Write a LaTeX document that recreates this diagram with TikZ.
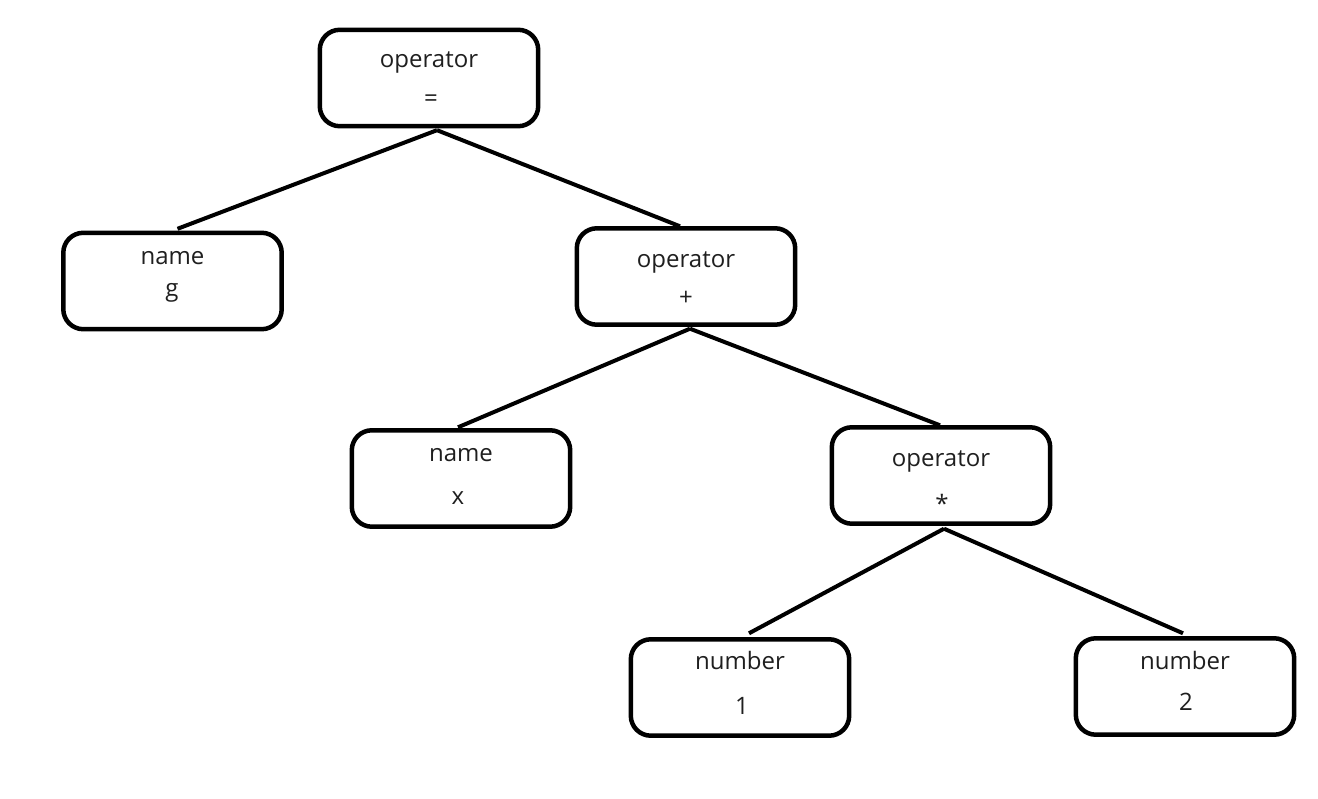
\documentclass[tikz,border=0pt]{standalone}
\usepackage{fontspec}
\setmainfont{Open Sans}
\definecolor{txt}{HTML}{1F1F1F}
\begin{document}
\begin{tikzpicture}[x=1pt,y=-1pt,
  box/.style={draw=black, line width=4.5pt, fill=white, rounded corners=20pt,
    minimum width=218pt, minimum height=96pt, inner sep=0pt},
  slot/.style={minimum width=218pt, minimum height=96pt, inner sep=0pt},
  edge/.style={draw=black, line width=4pt},
  lbl/.style={anchor=base, inner sep=0pt, text=txt, font=\fontsize{24}{28}\selectfont}]
\fill[white] (0,0) rectangle (1318,799);
\useasboundingbox (0,0) rectangle (1318,799);
% box slots (named) define anchors
\path
  node[slot] (root) at (429,78) {}
  node[slot] (g) at (172.5,281) {}
  node[slot] (plus) at (686,276.5) {}
  node[slot] (x) at (461,478.5) {}
  node[slot] (star) at (941,475.5) {}
  node[slot] (n1) at (740,687.5) {}
  node[slot] (n2) at (1185,686.5) {};
% connectors
\draw[edge] ([xshift=8pt,yshift=-4pt]root.south) -- ([xshift=5pt,yshift=4pt]g.north);
\draw[edge] ([xshift=8pt,yshift=-4pt]root.south) -- ([xshift=-6pt,yshift=2pt]plus.north);
\draw[edge] ([xshift=4pt,yshift=-4pt]plus.south) -- ([xshift=-3pt,yshift=3pt]x.north);
\draw[edge] ([xshift=4pt,yshift=-4pt]plus.south) -- ([xshift=-1pt,yshift=2pt]star.north);
\draw[edge] ([xshift=3pt,yshift=-5pt]star.south) -- ([xshift=9pt,yshift=6pt]n1.north);
\draw[edge] ([xshift=3pt,yshift=-5pt]star.south) -- ([xshift=-2pt,yshift=5pt]n2.north);
% box outlines
\foreach \n in {root,g,plus,x,star,n1,n2}
  \draw[box] (\n.south west) rectangle (\n.north east);
% labels
\node[lbl] (rootA) at (429,68) {operator};
\node[lbl] (rootB) at (431,107) {=};
\node[lbl] (gA) at (172.5,265) {name};
\node[lbl] (gB) at (172,297) {g};
\node[lbl] (plusA) at (686,268) {operator};
\node[lbl] (plusB) at (686,306) {+};
\node[lbl] (xA) at (461,462) {name};
\node[lbl] (xB) at (458,504) {x};
\node[lbl] (starA) at (941,467) {operator};
\node[lbl] (starB) at (942,513) {*};
\node[lbl] (n1A) at (740,669) {number};
\node[lbl] (n1B) at (742,714) {1};
\node[lbl] (n2A) at (1185,669) {number};
\node[lbl] (n2B) at (1186,710) {2};
\end{tikzpicture}
\end{document}
